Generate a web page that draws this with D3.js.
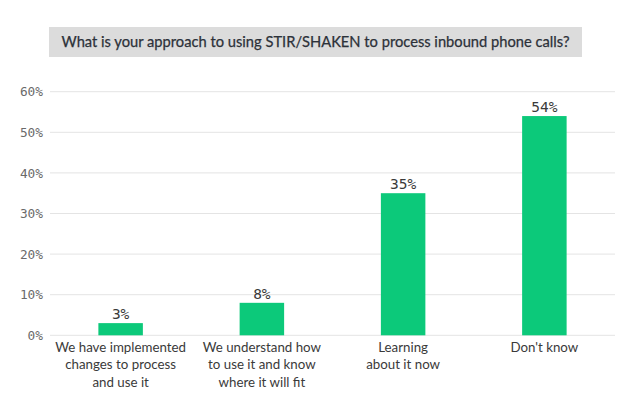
<!DOCTYPE html>
<html><head><meta charset="utf-8">
<script src="https://cdn.jsdelivr.net/npm/d3@7"></script>
<style>body{margin:0;background:#fff}svg{display:block}</style>
</head><body><svg id="c" width="643" height="406"></svg>
<script>
const title = "What is your approach to using STIR/SHAKEN to process inbound phone calls?";
const categories = [
  ["We have implemented","changes to process","and use it"],
  ["We understand how","to use it and know","where it will fit"],
  ["Learning","about it now"],
  ["Don't know"]
];
const values = [3, 8, 35, 54];
const yTicks = [0, 10, 20, 30, 40, 50, 60];

const svg = d3.select("#c");
const m = {left:50, right:28, top:91.7, bottom:70.7};
const W = 643, H = 406;

// title box
svg.append("rect").attr("x",49).attr("y",27).attr("width",533).attr("height",30).attr("fill","#dcdcdc");
svg.append("text").attr("x",315.5).attr("y",47).attr("text-anchor","middle")
  .attr("font-family","Lato, 'Open Sans', sans-serif").attr("font-size",14.7).attr("fill","#2c3139")
  .attr("stroke","#2c3139").attr("stroke-width",0.25)
  .text(title);

const x = d3.scaleBand().domain(d3.range(values.length)).range([m.left, W-m.right]).paddingInner(0.685).paddingOuter(0.3425);
const y = d3.scaleLinear().domain([0,60]).range([H-m.bottom, m.top]);

// grid
svg.append("g").selectAll("line").data(yTicks).join("line")
  .attr("x1",m.left).attr("x2",W-m.right)
  .attr("y1",d=>y(d)).attr("y2",d=>y(d))
  .attr("stroke","#e4e4e4").attr("stroke-width",1);

const yAxis = d3.axisLeft(y).tickValues(yTicks).tickFormat(d=>d+"%").tickSize(0).tickPadding(7);
const ga = svg.append("g").attr("transform",`translate(${m.left},0)`).call(yAxis);
ga.select(".domain").remove();
ga.selectAll("text").attr("font-family","'DejaVu Sans Mono', monospace").attr("font-size",12.8).attr("fill","#6a6a6a");

// bars
svg.append("g").selectAll("rect").data(values).join("rect")
  .attr("x",(d,i)=>x(i)).attr("width",x.bandwidth())
  .attr("y",d=>y(d)).attr("height",d=>y(0)-y(d))
  .attr("fill","#0cc97a");

// value labels
svg.append("g").selectAll("text").data(values).join("text")
  .attr("x",(d,i)=>x(i)+x.bandwidth()/2).attr("y",d=>y(d)-4)
  .attr("text-anchor","middle")
  .attr("font-family","'DejaVu Sans Mono', monospace").attr("font-size",14.5).attr("fill","#3a3a3a")
  .text(d=>d+"%");

// category labels
const cl = svg.append("g").selectAll("text").data(categories).join("text")
  .attr("x",(d,i)=>x(i)+x.bandwidth()/2).attr("y",351.5)
  .attr("text-anchor","middle")
  .attr("font-family","Lato, 'Open Sans', sans-serif").attr("font-size",13.3).attr("fill","#3a3a3a");
cl.selectAll("tspan").data(d=>d).join("tspan")
  .attr("x",function(){return this.parentNode.getAttribute("x");})
  .attr("dy",(d,i)=>i===0?0:17.5)
  .text(d=>d);
</script></body></html>
